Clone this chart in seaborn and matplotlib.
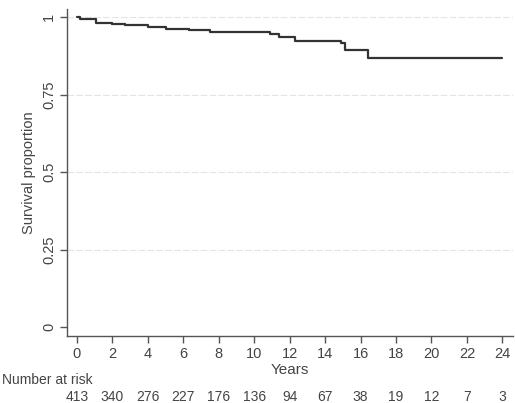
import matplotlib
matplotlib.use("Agg")
import matplotlib.pyplot as plt
import matplotlib.transforms as mtransforms
import seaborn as sns
import pandas as pd

# Kaplan-Meier step curve
times = [0.0, 0.2, 1.1, 2.0, 2.7, 4.0, 5.0, 6.3, 7.5, 10.9, 11.4, 12.3, 14.9, 15.1, 16.4, 24.0]
survival = [1.0, 0.994, 0.982, 0.977, 0.973, 0.967, 0.962, 0.957, 0.952, 0.944, 0.935, 0.924, 0.915, 0.893, 0.867, 0.867]

x_ticks = [0, 2, 4, 6, 8, 10, 12, 14, 16, 18, 20, 22, 24]
y_ticks = [0, 0.25, 0.5, 0.75, 1]
y_tick_labels = ["0", "0.25", "0.5", "0.75", "1"]
at_risk = [413, 340, 276, 227, 176, 136, 94, 67, 38, 19, 12, 7, 3]

sns.set_style("white")
plt.rcParams["font.family"] = ["Liberation Sans", "DejaVu Sans"]

W, H = 515, 403
fig = plt.figure(figsize=(W / 100, H / 100), dpi=100)
ax = fig.add_axes([67 / W, 1 - 336 / H, (513 - 67) / W, (336 - 9) / H])

df = pd.DataFrame({"Years": times, "Survival": survival})
sns.lineplot(data=df, x="Years", y="Survival", drawstyle="steps-post",
             color="#333333", linewidth=1.6, ax=ax)

for yv in [0.25, 0.5, 0.75, 1.0]:
    ax.axhline(yv, color="#e4e4e4", linewidth=0.8, linestyle=(0, (6, 2)), zorder=0)

ax.set_xlim(-0.56, 24.6)
ax.set_ylim(-0.029, 1.026)
ax.set_xticks(x_ticks)
ax.set_yticks(y_ticks)
ax.set_yticklabels(y_tick_labels, rotation=90, va="center")

tc = "#555555"
ax.tick_params(axis="both", which="major", direction="out", length=5, width=1,
               color=tc, labelcolor="#444444", labelsize=10.5, bottom=True, left=True, pad=3)
for s in ["top", "right"]:
    ax.spines[s].set_visible(False)
for s in ["left", "bottom"]:
    ax.spines[s].set_color(tc)
    ax.spines[s].set_linewidth(1.0)

ax.set_xlabel("Years", fontsize=11, color="#444444", labelpad=1)
ax.set_ylabel("Survival proportion", fontsize=10.5, color="#444444", labelpad=4.5)

fig.text(2 / W, 1 - 380 / H, "Number at risk", ha="left", va="center",
         fontsize=10, color="#444444")
trans = mtransforms.blended_transform_factory(ax.transData, fig.transFigure)
for t, n in zip(x_ticks, at_risk):
    ax.text(t, 1 - 401 / H, str(n), transform=trans, ha="center", va="baseline",
            fontsize=10, color="#444444", clip_on=False)

fig.savefig("out.png", dpi=100)
